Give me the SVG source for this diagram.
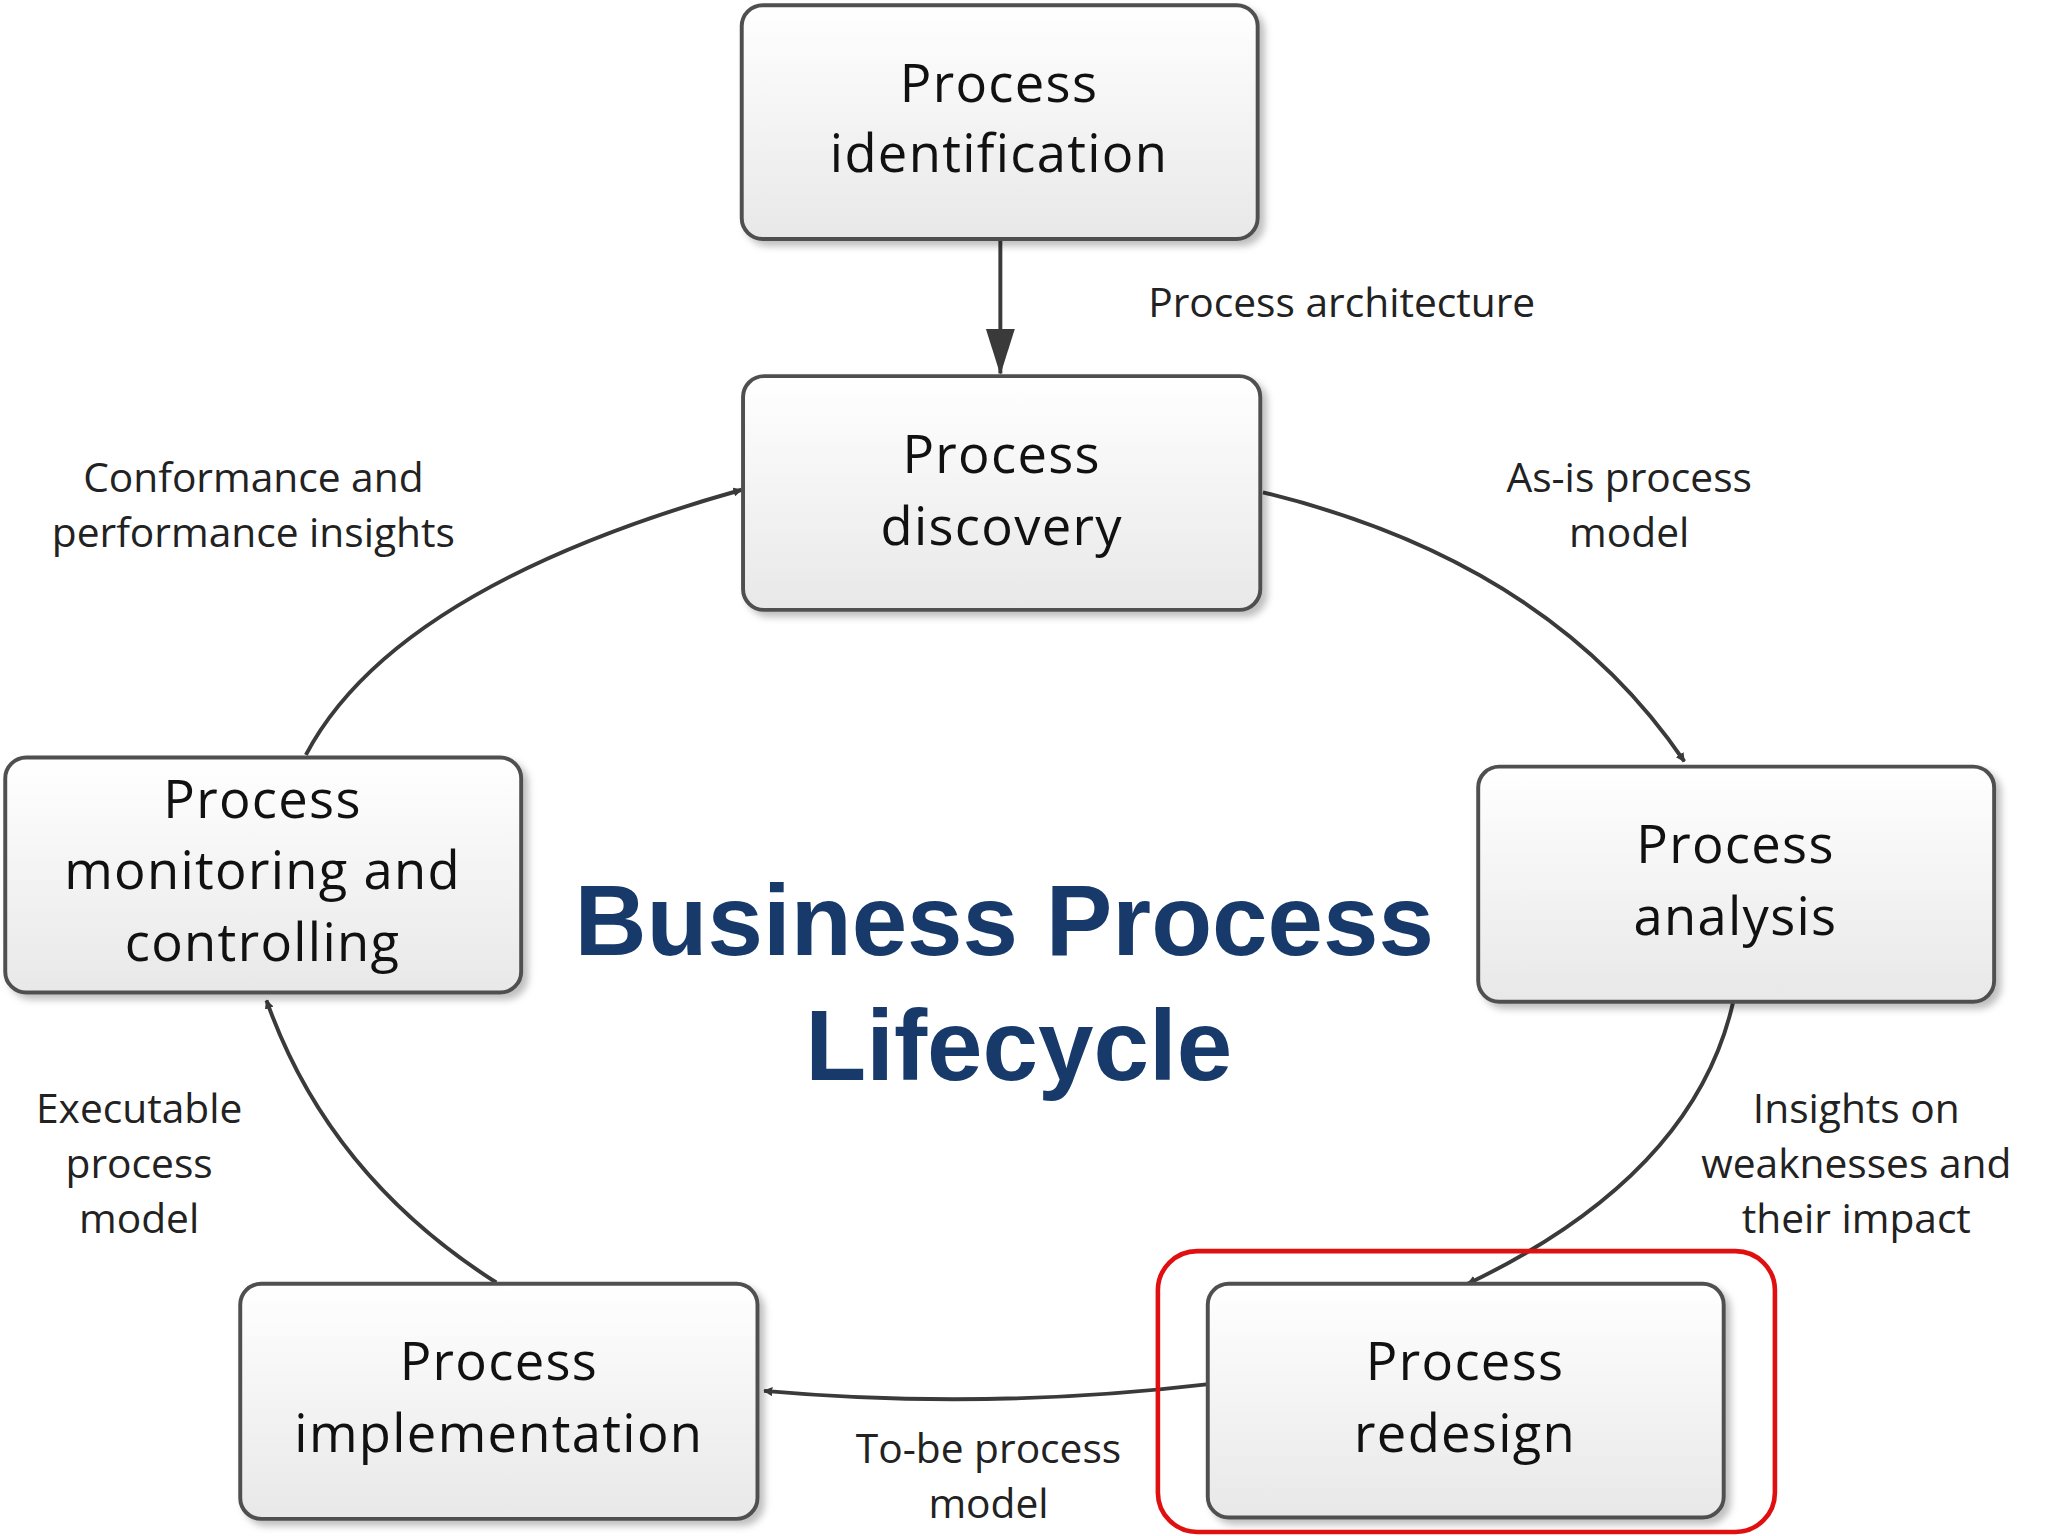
<svg xmlns="http://www.w3.org/2000/svg" width="2048" height="1536" viewBox="0 0 2048 1536">
<defs>
<linearGradient id="g" x1="0" y1="0" x2="0" y2="1"><stop offset="0" stop-color="#ffffff"/><stop offset="1" stop-color="#e8e8e8"/></linearGradient>
<filter id="sh" x="-10%" y="-10%" width="130%" height="130%"><feDropShadow dx="4" dy="4" stdDeviation="3" flood-color="#000" flood-opacity="0.25"/></filter>
<marker id="ah" viewBox="0 0 10 10" refX="9" refY="5" markerWidth="7" markerHeight="7" markerUnits="userSpaceOnUse" orient="auto"><path d="M0,0 L10,5 L0,10 z" fill="#3a3a3a"/></marker>
<style>
.box{fill:url(#g);stroke:#505050;stroke-width:3;filter:url(#sh)}
.nt{font-family:"Open Sans","DejaVu Sans",sans-serif;font-size:40px;fill:#111;text-anchor:middle;letter-spacing:1px}
.lb{font-family:"Open Sans","DejaVu Sans",sans-serif;font-size:31px;fill:#222;text-anchor:middle}
.c{fill:none;stroke:#3a3a3a;stroke-width:3;marker-end:url(#ah)}
.tt{font-family:"Liberation Sans",Arial,sans-serif;font-weight:bold;font-size:76px;fill:#173a6b;text-anchor:middle}
</style>
</defs>
<rect width="2048" height="1536" fill="#fff"/>
<g transform="scale(1.3128,1.306)">
<g id="connectors">
<path class="c" d="M762,184 L762,286" style="marker-end:none"/>
<path d="M751,252 L762,287 L773,252 z" fill="#3a3a3a"/>
<path class="c" d="M962,377 Q1180,430 1283,583"/>
<path class="c" d="M1320,768 Q1290,900 1118,983"/>
<path class="c" d="M919,1060 Q750,1080 582,1065"/>
<path class="c" d="M378,982 Q250,900 203,766"/>
<path class="c" d="M233,578 Q300,450 565,375"/>
</g>
<g id="labels">
<text class="lb" x="1022" y="243">Process architecture</text>
<text class="lb" x="1241" y="377">As-is process</text>
<text class="lb" x="1241" y="419">model</text>
<text class="lb" x="193" y="377">Conformance and</text>
<text class="lb" x="193" y="419">performance insights</text>
<text class="lb" x="1414" y="860">Insights on</text>
<text class="lb" x="1414" y="902">weaknesses and</text>
<text class="lb" x="1414" y="944">their impact</text>
<text class="lb" x="106" y="860">Executable</text>
<text class="lb" x="106" y="902">process</text>
<text class="lb" x="106" y="944">model</text>
<text class="lb" x="753" y="1120">To-be process</text>
<text class="lb" x="753" y="1162">model</text>
</g>
<g id="n1"><rect class="box" x="565" y="4" width="393" height="179" rx="16"/><text class="nt" x="761" y="78">Process</text><text class="nt" x="761" y="132">identification</text></g>
<g id="n2"><rect class="box" x="566" y="288" width="394" height="179" rx="16"/><text class="nt" x="763" y="362">Process</text><text class="nt" x="763" y="417">discovery</text></g>
<g id="n3"><rect class="box" x="1126" y="587" width="393" height="180" rx="16"/><text class="nt" x="1322" y="661">Process</text><text class="nt" x="1322" y="716">analysis</text></g>
<g id="n4"><rect class="box" x="920" y="983" width="393" height="179" rx="16"/><text class="nt" x="1116" y="1057">Process</text><text class="nt" x="1116" y="1112">redesign</text></g>
<g id="n5"><rect class="box" x="183" y="983" width="394" height="180" rx="16"/><text class="nt" x="380" y="1057">Process</text><text class="nt" x="380" y="1112">implementation</text></g>
<g id="n6"><rect class="box" x="4" y="580" width="393" height="180" rx="16"/><text class="nt" x="200" y="626">Process</text><text class="nt" x="200" y="681">monitoring and</text><text class="nt" x="200" y="736">controlling</text></g>
<g id="highlight"><rect x="882" y="958" width="470" height="215" rx="30" fill="none" stroke="#e01010" stroke-width="3.5"/></g>
<g id="title"><text class="tt" x="765" y="731">Business Process</text><text class="tt" x="776" y="827">Lifecycle</text></g>
</g>
</svg>
